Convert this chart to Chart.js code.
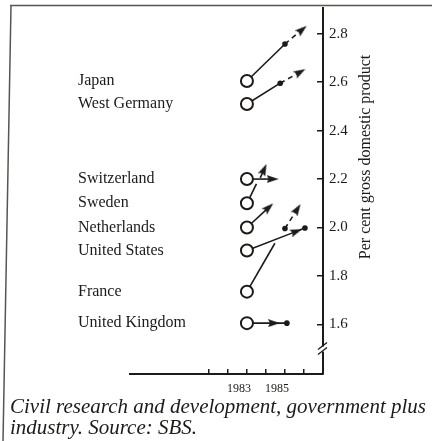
<!DOCTYPE html>
<html>
<head>
<meta charset="utf-8">
<script src="https://cdn.jsdelivr.net/npm/chart.js@4.4.1/dist/chart.umd.min.js"></script>
<style>
  html, body { margin: 0; padding: 0; background: #fff; }
  #chart { display: block; }
</style>
</head>
<body>
<canvas id="chart" width="432" height="441"></canvas>
<script>
// ======================================================
// DATA
// ======================================================
const countries = ['Japan', 'West Germany', 'Switzerland', 'Sweden',
                   'Netherlands', 'United States', 'France', 'United Kingdom'];
const value1983 = [2.605, 2.51, 2.20, 2.10, 2.00, 1.905, 1.735, 1.605];

// later readings: [year, per cent, mark]; null breaks the stroke
// mark: dot = reading, arrow = direction of change, proj = dashed projection, end = bare line end
const japanLater       = [[1985.0, 2.758, 'dot'], [1985.9, 2.817, 'proj']];
const westGermanyLater = [[1984.75, 2.596, 'dot'], [1985.8, 2.642, 'proj']];
const switzerlandLater = [[1984.35, 2.20, 'arrow'], null, [1983.7, 2.205, 'end'], [1983.9, 2.24, 'arrow']];
const swedenLater      = [[1983.5, 2.18, 'end']];
const netherlandsLater = [[1984.15, 2.083, 'arrow'], null, [1985.0, 1.996, 'dot'], [1985.65, 2.076, 'proj']];
const usLater          = [[1985.6, 1.984, 'arrow'], [1986.05, 1.998, 'dot']];
const franceLater      = [[1984.47, 1.935, 'end']];
const ukLater          = [[1984.42, 1.605, 'arrow'], [1985.1, 1.605, 'dot']];

const laterReadings = [japanLater, westGermanyLater, switzerlandLater, swedenLater,
                       netherlandsLater, usLater, franceLater, ukLater];

const tickYears = [1981, 1982, 1983, 1984, 1985, 1986];
const yearLabels = [1983, 1985];
const percentTicks = [1.6, 1.8, 2.0, 2.2, 2.4, 2.6, 2.8];
const yTitle = 'Per cent gross domestic product';
const caption = ['Civil research and development, government plus', 'industry. Source: SBS.'];

// ======================================================
// CHART
// ======================================================
const ink = '#1d1a18';
const serif = '"Liberation Serif", "DejaVu Serif", serif';

// narrow arrow head, tip pointing up
const arrowHead = (() => {
    const c = document.createElement('canvas');
    c.width = 8; c.height = 12;
    const g = c.getContext('2d');
    g.fillStyle = ink;
    g.beginPath();
    g.moveTo(4, 0); g.lineTo(8, 12); g.lineTo(4, 10); g.lineTo(0, 12);
    g.closePath();
    g.fill();
    return c;
})();

const arrowAngle = (ctx) => {
    const d = ctx.dataset.data, i = ctx.dataIndex;
    if (i < 1 || d[i - 1].y === null) return 0;
    const sx = ctx.chart.scales.x, sy = ctx.chart.scales.y;
    const dx = sx.getPixelForValue(d[i].x) - sx.getPixelForValue(d[i - 1].x);
    const dy = sy.getPixelForValue(d[i].y) - sy.getPixelForValue(d[i - 1].y);
    return Math.atan2(dx, -dy) * 180 / Math.PI;
};

const datasets = countries.map((name, i) => {
    const data = [{x: 1983, y: value1983[i]}];
    const marks = ['start'];
    laterReadings[i].forEach(r => {
        if (r === null) {
            data.push({x: data[data.length - 1].x, y: null});
            marks.push('gap');
        } else {
            data.push({x: r[0], y: r[1]});
            marks.push(r[2]);
        }
    });
    const isArrow = m => m === 'arrow' || m === 'proj';
    return {
        label: name,
        data,
        borderColor: ink,
        borderWidth: 1.6,
        spanGaps: false,
        segment: {
            borderDash: c => marks[c.p1DataIndex] === 'proj' ? [5, 4] : undefined
        },
        pointStyle: c => isArrow(marks[c.dataIndex]) ? arrowHead : 'circle',
        pointRadius: c => {
            const m = marks[c.dataIndex];
            if (m === 'start') return 6;
            if (m === 'dot') return 2.8;
            if (isArrow(m)) return 5;
            return 0;
        },
        pointRotation: c => isArrow(marks[c.dataIndex]) ? arrowAngle(c) : 0,
        pointBackgroundColor: c => marks[c.dataIndex] === 'start' ? '#fff' : ink,
        pointBorderColor: ink,
        pointBorderWidth: c => marks[c.dataIndex] === 'start' ? 2 : 0
    };
});

const framePlugin = {
    id: 'frame',
    beforeDraw(chart) {
        const ctx = chart.ctx;
        ctx.save();
        ctx.strokeStyle = '#585450';
        ctx.lineWidth = 1.5;
        ctx.beginPath();
        ctx.moveTo(10, 5.5); ctx.lineTo(432, 5.5);
        ctx.moveTo(11, 5.5); ctx.lineTo(3, 441);
        ctx.stroke();
        ctx.restore();
    }
};

const countryNames = {
    id: 'countryNames',
    afterDatasetsDraw(chart) {
        const ctx = chart.ctx;
        ctx.save();
        ctx.font = '16px ' + serif;
        ctx.fillStyle = ink;
        ctx.textAlign = 'left';
        ctx.textBaseline = 'middle';
        chart.data.datasets.forEach((ds, i) => {
            const p = chart.getDatasetMeta(i).data[0];
            ctx.fillText(ds.label, 78, p.y);
        });
        ctx.restore();
    }
};

const axisExtras = {
    id: 'axisExtras',
    afterDraw(chart) {
        const ctx = chart.ctx;
        const s = chart.scales.y;
        ctx.save();
        // rotated axis title
        ctx.translate(366, 157);
        ctx.rotate(-Math.PI / 2);
        ctx.font = '16px ' + serif;
        ctx.fillStyle = ink;
        ctx.textAlign = 'center';
        ctx.textBaseline = 'middle';
        ctx.fillText(yTitle, 0, 0);
        ctx.restore();

        // break in the value axis
        const x = s.left, y = s.getPixelForValue(1.5);
        ctx.save();
        ctx.fillStyle = '#fff';
        ctx.fillRect(x - 2, y - 2, 4, 5);
        ctx.strokeStyle = ink;
        ctx.lineWidth = 1.3;
        ctx.beginPath();
        ctx.moveTo(x - 5, y + 1); ctx.lineTo(x + 4, y - 6);
        ctx.moveTo(x - 5, y + 6); ctx.lineTo(x + 4, y - 1);
        ctx.stroke();
        ctx.restore();
    }
};

new Chart(document.getElementById('chart').getContext('2d'), {
    type: 'line',
    data: { datasets },
    options: {
        responsive: false,
        animation: false,
        layout: { padding: { left: 10, right: 0, top: 6, bottom: 0 } },
        scales: {
            x: {
                type: 'linear',
                position: 'bottom',
                min: 1976.85,
                max: 1987,
                afterBuildTicks: s => { s.ticks = tickYears.map(v => ({value: v})); },
                afterFit: s => { s.height = 21; s.paddingLeft = 0; s.paddingRight = 0; },
                grid: { drawOnChartArea: false, tickLength: -5, color: ink, lineWidth: 1.5 },
                border: { color: ink, width: 2 },
                ticks: {
                    autoSkip: false,
                    maxRotation: 0,
                    padding: 13,
                    labelOffset: -8,
                    color: ink,
                    font: { family: serif, size: 12 },
                    callback: v => yearLabels.includes(v) ? String(v) : ''
                }
            },
            y: {
                type: 'linear',
                position: 'right',
                min: 1.395,
                max: 2.9065,
                afterBuildTicks: s => { s.ticks = percentTicks.map(v => ({value: v})); },
                afterFit: s => { s.width = 109; s.paddingTop = 0; s.paddingBottom = 0; },
                grid: { drawOnChartArea: false, tickLength: -6, color: ink, lineWidth: 1.5 },
                border: { color: ink, width: 2 },
                ticks: {
                    padding: 12,
                    color: ink,
                    font: { family: serif, size: 15 },
                    callback: v => v.toFixed(1)
                }
            },
            pad: {
                type: 'linear',
                position: 'left',
                grid: { display: false },
                border: { display: false },
                ticks: { display: false },
                afterFit: s => { s.width = 120; s.paddingTop = 0; s.paddingBottom = 0; }
            }
        },
        plugins: {
            legend: { display: false },
            tooltip: { enabled: false },
            title: {
                display: true,
                position: 'bottom',
                align: 'start',
                text: caption,
                color: ink,
                font: { family: serif, size: 21, style: 'italic', weight: 'normal', lineHeight: 1.0 },
                padding: { top: 2, bottom: 2 }
            }
        }
    },
    plugins: [framePlugin, countryNames, axisExtras]
});
</script>
</body>
</html>
